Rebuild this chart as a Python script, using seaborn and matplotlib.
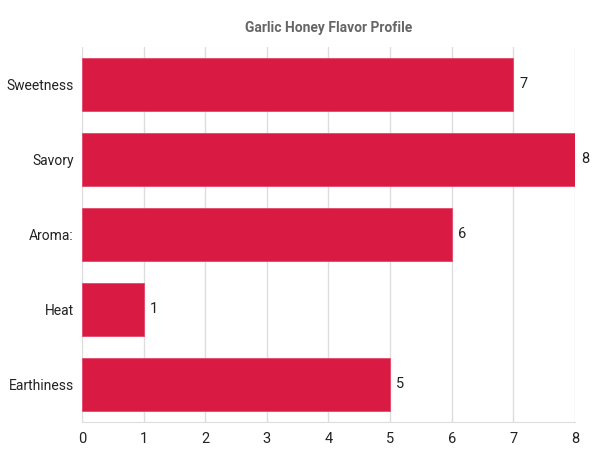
import numpy as np
import pandas as pd
import matplotlib
matplotlib.use("Agg")
import matplotlib.pyplot as plt
import seaborn as sns

# flavor profile values
flavors = ["Sweetness", "Savory", "Aroma:", "Heat", "Earthiness"]
scores = [7, 8, 6, 1, 5]

df = pd.DataFrame({"Flavor": flavors, "Score": scores})

sns.set_style("white")
plt.rcParams["font.family"] = ["Roboto", "DejaVu Sans"]

fig = plt.figure(figsize=(6, 4.57), dpi=100)
ax = fig.add_axes([0.1367, 0.0766, 0.8216, 0.8206])

sns.barplot(
        data = df,
        x = "Score",
        y = "Flavor",
        color = "#D91B43",
        saturation = 1,
        width = 0.71,
        edgecolor = "#E4476A",
        linewidth = 0.6,
        ax = ax
        )

for i, v in enumerate(scores):
    ax.text(v + 0.1, i, str(v), va="center", ha="left", fontsize=10.5, color="#222222")

ax.set_xlim(0, 8)
ax.set_ylim(4.5, -0.5)
ax.set_xticks(range(0, 9))
ax.grid(axis="x", color="#dddddd", linewidth=1)
ax.set_axisbelow(True)
for s in ["top", "right", "left"]:
    ax.spines[s].set_visible(False)
ax.spines["bottom"].set_color("#dddddd")
ax.tick_params(axis="x", length=5, color="#dddddd", labelsize=10.5, labelcolor="#222222", pad=2)
ax.tick_params(axis="y", length=0, labelsize=10, labelcolor="#222222", pad=6)
ax.set_xlabel("")
ax.set_ylabel("")
ax.set_title("Garlic Honey Flavor Profile", fontsize=10, fontweight="bold", color="#666666", pad=11)

fig.savefig("out.png", dpi=100)
